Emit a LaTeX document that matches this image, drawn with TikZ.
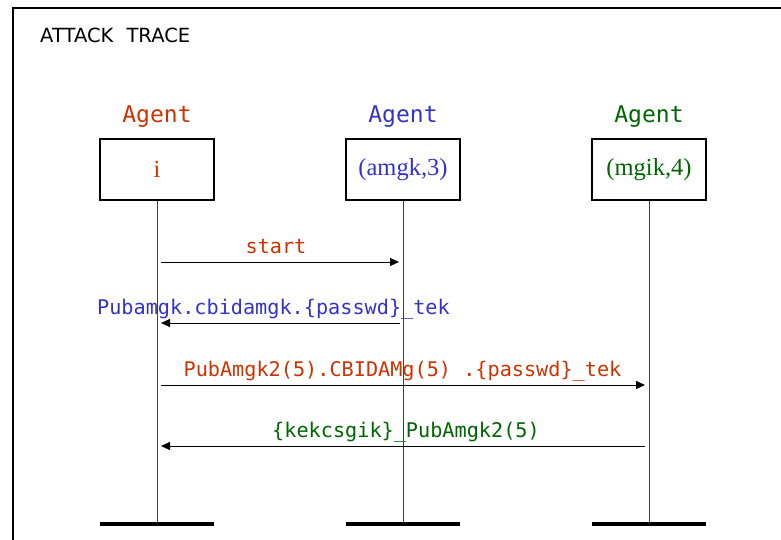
\documentclass[tikz,border=0pt]{standalone}
\usepackage{fontspec}
\setmainfont{Liberation Serif}
\newfontfamily\monof{DejaVu Sans Mono}
\newfontfamily\sansf{DejaVu Sans}
\usetikzlibrary{arrows.meta}
\definecolor{cred}{RGB}{204,51,0}
\definecolor{cblue}{RGB}{51,51,204}
\definecolor{cgreen}{RGB}{0,102,0}
\tikzset{
  agentbox/.style={draw, line width=2pt, minimum width=114pt, minimum height=61pt, inner sep=0pt, font=\fontsize{24.5}{24.5}\selectfont},
  agentlbl/.style={anchor=base, font=\monof\fontsize{23}{23}\selectfont},
  msglbl/.style={anchor=base, font=\monof\fontsize{20.2}{20.2}\selectfont},
  lifeline/.style={draw=black!75, line width=1pt},
  endbar/.style={draw=black, line width=3.5pt},
  msg/.style={draw=black, line width=1pt, -{Triangle[length=9pt,width=8pt]}},
}
\begin{document}
\begin{tikzpicture}[x=1pt,y=-1pt]
\useasboundingbox (0,0) rectangle (781,540);
\draw[line width=2pt] (13,8) rectangle (820,580);
\node[anchor=base west, inner sep=0pt, font=\sansf\fontsize{19.5}{19.5}\selectfont] (title) at (40,43) {ATTACK\hspace{7pt} TRACE};
% agents
\node[agentbox, text=cred] (b1) at (157,169.5) {i};
\node[agentbox, text=cblue] (b2) at (403,169.5) {(amgk,3)};
\node[agentbox, text=cgreen] (b3) at (649,169.5) {(mgik,4)};
\node[agentlbl, text=cred] (l1) at (157,123) {Agent};
\node[agentlbl, text=cblue] (l2) at (403,123) {Agent};
\node[agentlbl, text=cgreen] (l3) at (649,123) {Agent};
% lifeline ends
\coordinate (e1) at (157,524);
\coordinate (e2) at (403,524);
\coordinate (e3) at (649,524);
\draw[lifeline] (b1.south) -- (e1);
\draw[lifeline] (b2.south) -- (e2);
\draw[lifeline] (b3.south) -- (e3);
\draw[endbar] ([xshift=-57pt]e1) -- ([xshift=57pt]e1);
\draw[endbar] ([xshift=-57pt]e2) -- ([xshift=57pt]e2);
\draw[endbar] ([xshift=-57pt]e3) -- ([xshift=57pt]e3);
% message endpoints
\coordinate (m1a) at (161,262); \coordinate (m1b) at (399,262);
\coordinate (m2a) at (400,323); \coordinate (m2b) at (161,323);
\coordinate (m3a) at (161,385); \coordinate (m3b) at (645,385);
\coordinate (m4a) at (645,446); \coordinate (m4b) at (161,446);
\draw[msg] (m1a) -- (m1b);
\draw[msg] (m2a) -- (m2b);
\draw[msg] (m3a) -- (m3b);
\draw[msg] (m4a) -- (m4b);
\node[msglbl, text=cred] (t1) at (276,253) {start};
\node[msglbl, text=cblue] (t2) at (273.5,314) {Pubamgk.cbidamgk.\{passwd\}\_tek};
\node[msglbl, text=cred] (t3) at (402.5,376) {PubAmgk2(5).CBIDAMg(5) .\{passwd\}\_tek};
\node[msglbl, text=cgreen] (t4) at (406,437.5) {\{kekcsgik\}\_PubAmgk2(5)};
\end{tikzpicture}
\end{document}
